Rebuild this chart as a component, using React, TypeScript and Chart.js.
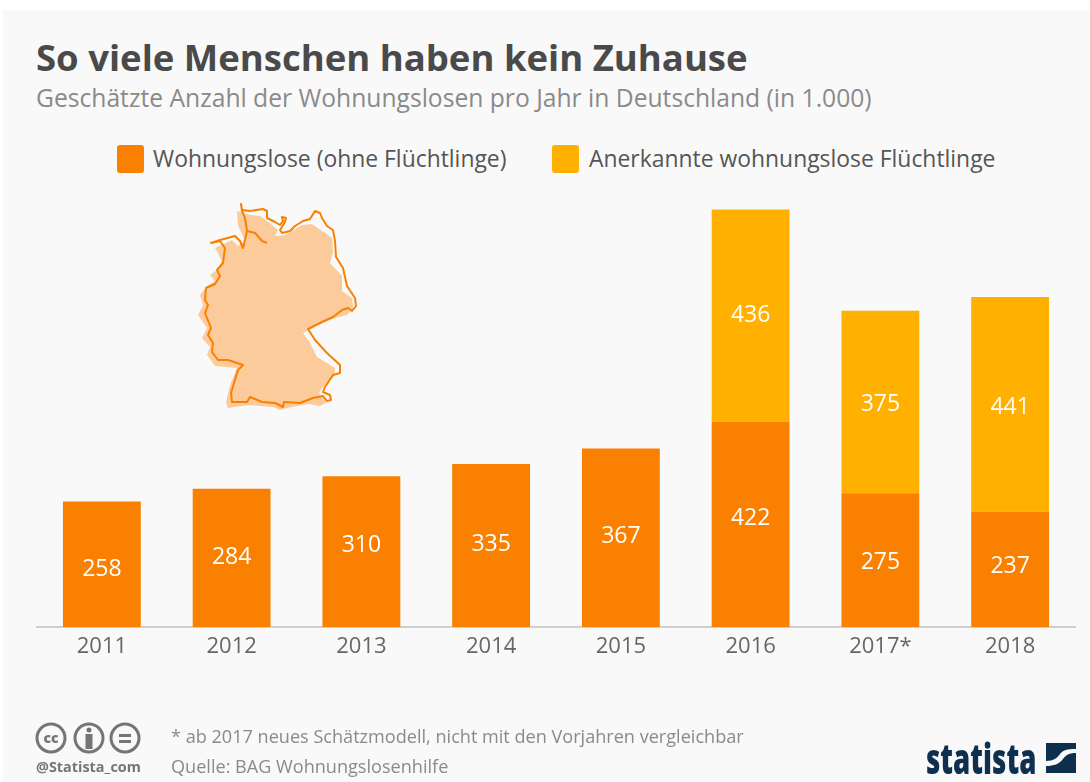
import React, { useEffect, useRef } from "react";
import { Chart, registerables } from "chart.js";

Chart.register(...registerables);

const years = ["2011", "2012", "2013", "2014", "2015", "2016", "2017*", "2018"];
const homeless = [258, 284, 310, 335, 367, 422, 275, 237];
const refugees = [null, null, null, null, null, 436, 375, 441];
// Printed labels sit slightly off the segment centres in the original (pixels)
const homelessLabelNudge = [5, 0, -6, -1, -1, -6, 2, -3];
const refugeeLabelNudge = [0, 0, 0, 0, 0, 0, 3, 3];

const seriesNames = ["Wohnungslose (ohne Flüchtlinge)", "Anerkannte wohnungslose Flüchtlinge"];
const ORANGE = "#F98000";
const YELLOW = "#FFB000";
const FONT = '"Open Sans", sans-serif';

const mapOutline =
  "M241,204 L242,210 L250,211 L263,209 L267,211 L267,218 L275,222 L280,225 L283,221 L282,217 L286,218 L285,222 L280,230 L282,233 L290,231 L295,226 L303,221 L310,219 L315,211 L320,213 L322,218 L327,226 L333,230 L335,241 L336,257 L343,268 L347,286 L355,298 L356,306 L352,311 L348,308 L342,310 L333,317 L322,322 L310,328 L308,329 L315,340 L327,353 L340,365 L340,373 L333,375 L325,387 L323,392 L330,395 L331,400 L327,401 L323,396 L313,398 L300,403 L284,402 L283,407 L275,403 L262,402 L250,397 L247,402 L232,402 L231,393 L238,370 L243,365 L228,360 L218,360 L212,352 L213,343 L208,335 L211,328 L205,313 L208,305 L205,300 L206,288 L215,284 L220,276 L217,270 L223,263 L225,248 L220,241 L211,243 L220,240 L235,236 L240,241 L243,248 L245,240 L247,231 L245,218 L242,211 Z";
const mapElbe = "M247,231 L255,233 L262,241 L267,243";
const mapFill =
  "M237,211 L250,215 L260,216 L267,221 L278,230 L275,236 L285,235 L302,225 L312,224 L322,231 L332,238 L333,253 L330,263 L342,276 L342,291 L352,298 L353,308 L347,315 L335,318 L322,323 L303,333 L310,343 L317,357 L335,368 L335,375 L323,387 L319,393 L327,402 L320,406 L308,404 L292,407 L280,410 L273,407 L248,405 L228,408 L226,402 L230,385 L237,368 L215,366 L207,355 L210,347 L202,338 L207,328 L198,315 L203,305 L200,295 L207,286 L215,281 L210,275 L217,270 L222,261 L215,248 L232,240 L238,246 L245,241 L238,225 Z";

const labelPlugin = {
  id: "barLabels",
  afterDatasetsDraw(chart: any) {
    const { ctx } = chart;
    ctx.save();
    ctx.fillStyle = "#ffffff";
    ctx.font = `23px ${FONT}`;
    ctx.textAlign = "center";
    ctx.textBaseline = "middle";
    chart.data.datasets.forEach((ds: any, d: number) => {
      const nudge = d === 0 ? homelessLabelNudge : refugeeLabelNudge;
      chart.getDatasetMeta(d).data.forEach((bar: any, i: number) => {
        const v = ds.data[i];
        if (v == null) return;
        const p = bar.getProps(["x", "y", "base"], true);
        ctx.fillText(String(v), p.x, (p.y + p.base) / 2 + nudge[i]);
      });
    });
    ctx.restore();
  },
};

const abs = (left: number, top: number, extra: React.CSSProperties = {}): React.CSSProperties => ({
  position: "absolute",
  left,
  top,
  whiteSpace: "nowrap",
  lineHeight: 1,
  fontFamily: FONT,
  ...extra,
});

function Badge({ cx, children }: { cx: number; children: React.ReactNode }) {
  return (
    <g transform={`translate(${cx},738)`}>
      <circle r="14" fill="none" stroke="#757575" strokeWidth="3" />
      {children}
    </g>
  );
}

export default function App() {
  const ref = useRef<HTMLCanvasElement>(null);
  useEffect(() => {
    const chart = new Chart(ref.current!, {
      type: "bar",
      data: {
        labels: years,
        datasets: [
          { label: seriesNames[0], data: homeless, backgroundColor: ORANGE },
          { label: seriesNames[1], data: refugees, backgroundColor: YELLOW },
        ],
      },
      options: {
        responsive: false,
        animation: false,
        layout: { padding: { left: 37, right: 15, top: 189, bottom: 100 } },
        datasets: { bar: { categoryPercentage: 1, barPercentage: 0.6 } },
        plugins: { legend: { display: false }, tooltip: { enabled: false }, title: { display: false } },
        scales: {
          x: {
            stacked: true,
            grid: { display: false, drawTicks: false },
            border: { color: "#cfcfcf", width: 2 },
            ticks: { color: "#666666", font: { family: FONT, size: 22 }, padding: 7, maxRotation: 0, autoSkip: false },
            afterFit(scale: any) {
              scale.height = 55;
            },
          },
          y: { stacked: true, display: false, min: 0, max: 900 },
        },
      },
      plugins: [labelPlugin],
    } as any);
    return () => chart.destroy();
  }, []);

  return (
    <div style={{ position: "fixed", left: 0, top: 0, width: 1090, height: 782, background: "#fff", overflow: "hidden" }}>
      <div style={{ position: "absolute", left: 3, top: 10, right: 0, bottom: 0, background: "#F9F9F9" }} />
      <div style={abs(36, 39, { fontSize: 36.5, fontWeight: 700, color: "#4A4A4A" })}>So viele Menschen haben kein Zuhause</div>
      <div style={abs(36, 86, { fontSize: 24.65, color: "#8A8A8A" })}>Geschätzte Anzahl der Wohnungslosen pro Jahr in Deutschland (in 1.000)</div>

      <div style={{ position: "absolute", left: 117, top: 145, width: 27, height: 28, borderRadius: 3, background: ORANGE }} />
      <div style={abs(153, 148, { fontSize: 22.9, color: "#555555" })}>{seriesNames[0]}</div>
      <div style={{ position: "absolute", left: 552, top: 145, width: 27, height: 28, borderRadius: 3, background: YELLOW }} />
      <div style={abs(589, 148, { fontSize: 22.9, color: "#555555" })}>{seriesNames[1]}</div>

      <svg style={{ position: "absolute", left: 180, top: 190 }} width={200} height={230} viewBox="180 190 200 230">
        <path d={mapFill} fill="#FBCB9B" />
        <path d={mapOutline} fill="none" stroke={ORANGE} strokeWidth="2" strokeLinejoin="round" />
        <path d={mapElbe} fill="none" stroke={ORANGE} strokeWidth="2" />
      </svg>

      <canvas ref={ref} width={1090} height={782} style={{ position: "absolute", left: 0, top: 0 }} />

      <svg style={{ position: "absolute", left: 0, top: 0 }} width={1090} height={782}>
        <Badge cx={51}>
          <text x="0" y="5" textAnchor="middle" fontFamily={FONT} fontWeight="800" fontSize="14" fill="#757575">cc</text>
        </Badge>
        <Badge cx={89}>
          <circle cy="-8" r="2.5" fill="#757575" />
          <rect x="-3.5" y="-4" width="7" height="15" fill="#757575" />
        </Badge>
        <Badge cx={125}>
          <rect x="-6" y="-4" width="12" height="3" fill="#757575" />
          <rect x="-6" y="2" width="12" height="3" fill="#757575" />
        </Badge>
        <g transform="translate(1046,743)">
          <rect width="30" height="30" fill="#0F2F4F" />
          <path d="M0,18 C8,18 11,15 14,11 C17,7 21,6 30,6 L30,10 C23,10 20,12 17,16 C13,21 8,23 0,23 Z" fill="#F9F9F9" />
        </g>
      </svg>
      <div style={abs(36, 760, { fontSize: 14.4, fontWeight: 700, color: "#757575" })}>@Statista_com</div>
      <div style={abs(171, 727, { fontSize: 18.1, color: "#8A8A8A" })}>* ab 2017 neues Schätzmodell, nicht mit den Vorjahren vergleichbar</div>
      <div style={abs(171, 757, { fontSize: 18.1, color: "#8A8A8A" })}>Quelle: BAG Wohnungslosenhilfe</div>
      <div style={abs(926, 737, { fontSize: 42, fontWeight: 800, color: "#0F2F4F", transform: "scaleX(0.66)", transformOrigin: "left top" })}>statista</div>
    </div>
  );
}
